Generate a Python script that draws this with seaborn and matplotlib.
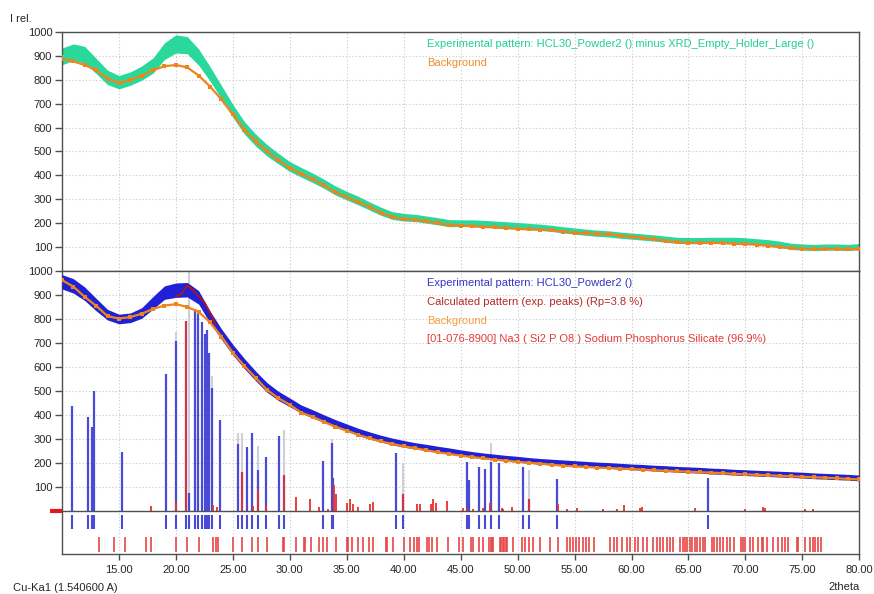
import numpy as np
import pandas as pd
import matplotlib
matplotlib.use("Agg")
import matplotlib.pyplot as plt
import seaborn as sns

# ---------------- data ----------------
two_theta = np.arange(10, 81)  # 10 .. 80 deg, 1 deg steps

top_exp = [898, 915, 905, 858, 810, 790, 805, 828, 860, 920,
           950, 945, 895, 825, 748, 670, 600, 548, 505, 470,
           437, 413, 390, 365, 337, 315, 295, 272, 250, 232,
           225, 222, 215, 208, 200, 200, 200, 198, 195, 192,
           190, 186, 183, 178, 172, 167, 162, 158, 155, 150,
           146, 142, 138, 133, 128, 127, 127, 128, 128, 128,
           126, 122, 118, 112, 103, 100, 98, 100, 100, 98, 102]
# half-width of the noise band
top_noise = [35, 35, 35, 32, 30, 28, 28, 30, 32, 35,
             38, 36, 34, 30, 28, 27, 26, 25, 24, 22,
             21, 20, 20, 19, 19, 18, 18, 17, 17, 16,
             16, 15, 15, 15, 15, 14, 14, 14, 14, 14,
             13, 13, 13, 13, 13, 13, 13, 13, 13, 13,
             13, 13, 13, 13, 13, 13, 13, 13, 13, 13,
             13, 13, 13, 13, 13, 13, 13, 13, 13, 13, 13]

top_bg = [889, 877, 862, 840, 805, 787, 800, 818, 840, 857,
          862, 852, 818, 772, 718, 655, 592, 542, 500, 463,
          430, 407, 383, 358, 330, 308, 289, 266, 244, 226,
          217, 215, 208, 200, 192, 190, 187, 184, 182, 179,
          176, 174, 173, 170, 165, 160, 157, 155, 153, 148,
          143, 138, 132, 126, 120, 118, 117, 118, 116, 114,
          112, 110, 105, 100, 95, 93, 92, 92, 92, 91, 92]

bot_exp = [955, 938, 905, 860, 818, 800, 805, 825, 868, 910,
           920, 922, 890, 808, 737, 672, 615, 563, 515, 480,
           453, 425, 405, 385, 365, 348, 330, 315, 302, 290,
           280, 272, 265, 257, 250, 243, 236, 230, 225, 220,
           216, 211, 207, 204, 201, 198, 195, 192, 190, 187,
           184, 182, 179, 177, 174, 172, 170, 167, 165, 162,
           160, 158, 156, 154, 152, 150, 147, 145, 143, 141, 138]
bot_noise = [30, 30, 28, 26, 22, 20, 20, 22, 26, 28,
             30, 30, 28, 25, 22, 22, 21, 20, 20, 19,
             18, 17, 17, 16, 16, 15, 15, 15, 14, 14,
             14, 13, 13, 13, 13, 12, 12, 12, 12, 12,
             12, 12, 12, 12, 12, 12, 12, 12, 12, 12,
             12, 12, 12, 12, 12, 12, 12, 12, 12, 12,
             12, 12, 12, 12, 12, 12, 12, 12, 12, 12, 12]

bot_bg = [962, 935, 892, 855, 812, 802, 808, 822, 842, 856,
          862, 850, 830, 786, 727, 660, 605, 555, 505, 470,
          443, 410, 393, 372, 352, 335, 318, 303, 290, 280,
          270, 262, 253, 245, 238, 231, 225, 220, 214, 210,
          205, 201, 198, 193, 189, 186, 184, 181, 179, 177,
          175, 173, 170, 168, 166, 164, 162, 160, 158, 155,
          153, 151, 149, 147, 145, 143, 141, 139, 137, 134, 132]

calc_x = [20.0, 20.5, 21.0, 21.5, 22.0, 22.5, 23.0, 23.5]
calc_y = [895, 905, 940, 920, 895, 870, 825, 775]

# reference pattern 01-076-8900 (blue sticks)
ref_pos = [10.85, 12.31, 12.61, 12.84, 15.29, 19.10, 19.98, 20.86, 21.15, 21.68,
           21.91, 22.32, 22.53, 22.70, 22.91, 23.14, 23.87, 25.43, 25.78, 26.22,
           26.71, 27.23, 27.88, 29.05, 29.46, 32.89, 33.68, 33.82, 39.32, 39.97,
           45.59, 45.76, 46.64, 47.14, 47.64, 48.40, 50.45, 51.04, 53.50, 66.69]
ref_int = [439, 392, 352, 499, 248, 569, 709, 793, 75, 842,
           828, 789, 737, 755, 657, 513, 378, 280, 164, 266,
           327, 171, 224, 313, 152, 210, 283, 136, 241, 72,
           206, 129, 185, 175, 206, 201, 182, 52, 133, 137]

# light (grey) sticks behind
grey_pos = [19.98, 21.15, 23.14, 25.43, 25.78, 27.23, 29.46, 33.68, 39.97, 47.64, 51.04]
grey_int = [744, 1000, 562, 327, 327, 271, 338, 300, 199, 283, 171]

# calculated peaks (red sticks)
peak_pos = [17.81, 19.98, 20.86, 23.29, 23.60, 25.78, 26.80, 27.23, 27.88, 29.46,
            30.52, 31.77, 32.55, 33.35, 33.92, 34.06, 35.00, 35.29, 35.52, 36.00,
            37.04, 37.27, 39.97, 41.14, 41.40, 42.37, 42.60, 42.84, 43.83, 45.23,
            45.53, 46.11, 47.00, 47.58, 48.60, 48.75, 49.48, 51.02, 53.54, 54.31,
            55.19, 57.53, 58.70, 59.34, 60.74, 60.95, 65.58, 69.97, 71.57, 71.72,
            75.23, 75.96]
peak_int = [22, 38, 790, 24, 18, 164, 20, 94, 24, 152,
            60, 52, 17, 10, 110, 70, 35, 50, 30, 15,
            31, 38, 72, 28, 28, 30, 51, 35, 44, 14,
            14, 10, 14, 32, 14, 10, 16, 52, 31, 10,
            14, 10, 10, 24, 14, 19, 14, 10, 19, 14,
            10, 10]

# phase reflection markers (red ticks, lower strip)
hkl_pos = [13.27, 14.59, 15.56, 17.35, 17.81, 20.01, 20.94, 22.02, 23.28, 23.52,
           23.72, 25.04, 25.83, 26.71, 27.18, 27.97, 29.38, 29.49, 30.52, 31.25,
           31.34, 31.84, 32.60, 32.89, 33.24, 34.03, 34.99, 35.14, 35.43, 36.02,
           36.46, 36.98, 37.33, 38.41, 38.50, 39.08, 40.03, 40.56, 40.91, 41.15,
           41.38, 42.02, 42.25, 42.52, 42.90, 43.85, 44.89, 45.18, 45.88, 46.06,
           46.64, 46.99, 47.52, 47.64, 47.75, 47.87, 48.46, 48.57, 48.69, 48.81,
           48.98, 49.10, 49.57, 50.36, 50.65, 51.03, 51.38, 51.97, 52.85, 53.58,
           54.37, 54.60, 54.84, 55.13, 55.42, 55.71, 56.01, 56.30, 56.71, 58.11,
           58.46, 58.76, 59.14, 59.58, 59.87, 60.31, 60.60, 61.04, 61.33, 61.92,
           62.21, 62.50, 62.80, 63.09, 63.38, 63.62, 64.26, 64.49, 64.70, 64.90,
           65.14, 65.28, 65.58, 65.72, 66.01, 66.31, 66.45, 67.04, 67.24, 67.54,
           67.77, 68.01, 68.36, 68.65, 69.00, 69.59, 69.76, 69.97, 70.40, 70.70,
           71.14, 71.43, 71.58, 71.87, 72.45, 72.89, 73.18, 73.48, 73.77, 74.50,
           74.65, 75.23, 75.67, 75.91, 76.11, 76.40, 76.61]

x_ticks = [15, 20, 25, 30, 35, 40, 45, 50, 55, 60, 65, 70, 75, 80]
y_ticks = [100, 200, 300, 400, 500, 600, 700, 800, 900, 1000]

top_legend = [("Experimental pattern: HCL30_Powder2 () minus XRD_Empty_Holder_Large ()", "#1fcf92"),
              ("Background", "#f08c28")]
bot_legend = [("Experimental pattern: HCL30_Powder2 ()", "#3434c8"),
              ("Calculated pattern (exp. peaks) (Rp=3.8 %)", "#b42828"),
              ("Background", "#f2a040"),
              ("[01-076-8900] Na3 ( Si2 P O8 ) Sodium Phosphorus Silicate (96.9%)", "#e23a3a")]

# ---------------- style ----------------
sns.set_theme(style="white")
plt.rcParams["font.family"] = ["Liberation Sans", "DejaVu Sans"]

GREEN = "#2ad89c"
ORANGE = "#f0841c"
BLUE = "#2020d6"
STICK = "#4a4ad8"
GREY = "#cfcfdc"
RED = "#e8302c"
TICKRED = "#e64646"
CALC = "#b01616"
SPINE = "#505050"
GRID = "#c8c8c8"
TXT = "#262626"

fig = plt.figure(figsize=(8.74, 5.94), dpi=100)
ax1 = fig.add_axes([0.0709, 0.5438, 0.9123, 0.4023])
ax2 = fig.add_axes([0.0709, 0.0668, 0.9123, 0.4770])

df_top = pd.DataFrame({"tt": two_theta, "exp": top_exp, "bg": top_bg, "nz": top_noise})
df_bot = pd.DataFrame({"tt": two_theta, "exp": bot_exp, "bg": bot_bg, "nz": bot_noise})
df_calc = pd.DataFrame({"tt": calc_x, "calc": calc_y})

for ax in (ax1, ax2):
    ax.set_xlim(10, 80)
    for s in ax.spines.values():
        s.set_color(SPINE)
        s.set_linewidth(1.0)
    for xv in x_ticks[:-1]:
        ax.axvline(xv, color=GRID, lw=0.8, ls=(0, (1, 2)), zorder=0)
    for yv in y_ticks[:-1]:
        ax.axhline(yv, color=GRID, lw=0.8, ls=(0, (1, 2)), zorder=0)
    ax.set_yticks(y_ticks)
    ax.set_yticklabels([str(v) for v in y_ticks])
    ax.tick_params(axis="y", left=True, direction="out", length=5, width=1,
                   color=SPINE, labelsize=8, labelcolor=TXT, pad=2)

# ---- top panel ----
ax1.set_ylim(0, 1000)
ax1.fill_between(df_top["tt"], df_top["exp"] - df_top["nz"], df_top["exp"] + df_top["nz"],
                 color=GREEN, lw=0, zorder=2)
sns.lineplot(data=df_top, x="tt", y="exp", ax=ax1, color=GREEN, lw=1.5,
             sort=False, estimator=None, zorder=3)
sns.lineplot(data=df_top, x="tt", y="bg", ax=ax1, color=ORANGE, lw=1.6,
             marker="s", markersize=3.5, markeredgewidth=0, sort=False,
             estimator=None, zorder=4)
ax1.set_xticks(x_ticks)
ax1.tick_params(axis="x", bottom=False, labelbottom=False)
ax1.set_xlabel("")
ax1.set_ylabel("")
for i, (t, c) in enumerate(top_legend):
    ax1.text(0.458, 0.9485 - i * 0.0775, t, color=c, fontsize=8,
             transform=ax1.transAxes, va="center", ha="left")

# ---- bottom panel ----
ax2.set_ylim(-180, 1000)
ax2.vlines(grey_pos, 0, grey_int, color=GREY, lw=1.5, zorder=1)
ax2.vlines(ref_pos, 0, ref_int, color=STICK, lw=1.6, zorder=2)
ax2.vlines(peak_pos, 0, peak_int, color=RED, lw=1.3, zorder=2.5)
ax2.fill_between(df_bot["tt"], df_bot["exp"] - df_bot["nz"], df_bot["exp"] + df_bot["nz"],
                 color=BLUE, lw=0, zorder=3)
sns.lineplot(data=df_bot, x="tt", y="exp", ax=ax2, color=BLUE, lw=1.5,
             sort=False, estimator=None, zorder=3.5)
sns.lineplot(data=df_bot, x="tt", y="bg", ax=ax2, color=ORANGE, lw=1.6,
             marker="s", markersize=3.5, markeredgewidth=0, sort=False,
             estimator=None, zorder=4)
sns.lineplot(data=df_calc, x="tt", y="calc", ax=ax2, color=CALC, lw=1.3,
             sort=False, estimator=None, zorder=5)
ax2.axhline(0, color=SPINE, lw=1.0, zorder=6)
ax2.vlines(ref_pos, -75, -17, color=STICK, lw=1.5, zorder=2)
ax2.vlines(hkl_pos, -169, -107, color=TICKRED, lw=1.2, zorder=2)
ax2.plot([8.95, 10.0], [0, 0], color="#e01818", lw=3, solid_capstyle="butt",
         clip_on=False, zorder=7)
ax2.set_xticks(x_ticks)
ax2.set_xticklabels(["%.2f" % v for v in x_ticks])
ax2.tick_params(axis="x", bottom=True, direction="out", length=4, width=1,
                color=SPINE, labelsize=8, labelcolor=TXT, pad=4)
ax2.set_xlabel("")
ax2.set_ylabel("")
for i, (t, c) in enumerate(bot_legend):
    ax2.text(0.458, 0.9566 - i * 0.0659, t, color=c, fontsize=8,
             transform=ax2.transAxes, va="center", ha="left")

fig.text(10 / 874, 1 - 19 / 594, "I rel.", fontsize=8, color=TXT, va="center", ha="left")
fig.text(13 / 874, 1 - 588 / 594, "Cu-Ka1 (1.540600 A)", fontsize=8, color=TXT,
         va="center", ha="left")
fig.text(860 / 874, 1 - 587 / 594, "2theta", fontsize=8, color=TXT,
         va="center", ha="right")

fig.savefig("out.png", dpi=100)
